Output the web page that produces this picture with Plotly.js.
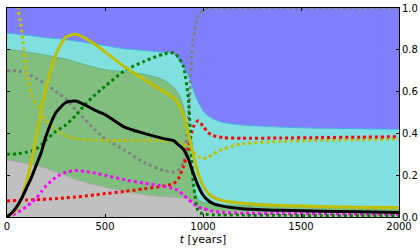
<!DOCTYPE html>
<html>
<head>
<meta charset="utf-8">
<script src="https://cdn.plot.ly/plotly-3.0.1.min.js"></script>
<style>html,body{margin:0;padding:0;background:#fff;}#chart{width:420px;height:249px;}</style>
</head>
<body>
<div id="chart"></div>
<script>
const years = [0,25,50,75,100,125,150,175,200,250,300,350,400,450,500,600,700,800,850,875,900,925,950,975,1000,1025,1050,1100,1200,1400,1600,1800,2000];

// stacked area boundaries (cumulative shares)
const grayTop  = [0.27,0.268,0.265,0.26,0.255,0.25,0.245,0.24,0.232,0.215,0.198,0.18,0.165,0.153,0.143,0.123,0.107,0.097,0.094,0.092,0.09,0.087,0.07,0.045,0.032,0.028,0.026,0.025,0.024,0.023,0.022,0.021,0.02];
const greenTop = [0.80,0.80,0.797,0.794,0.79,0.786,0.782,0.778,0.774,0.765,0.755,0.742,0.728,0.716,0.705,0.695,0.683,0.655,0.62,0.59,0.53,0.38,0.15,0.085,0.07,0.065,0.062,0.058,0.055,0.052,0.05,0.048,0.046];
const tealTop  = [0.88,0.878,0.875,0.872,0.87,0.867,0.864,0.861,0.858,0.854,0.849,0.842,0.835,0.828,0.82,0.805,0.797,0.788,0.782,0.755,0.72,0.675,0.61,0.55,0.51,0.485,0.47,0.453,0.44,0.43,0.425,0.422,0.42];

// dotted series
const grayDot   = [0.70,0.70,0.70,0.695,0.69,0.677,0.663,0.649,0.635,0.60,0.565,0.515,0.465,0.415,0.375,0.32,0.26,0.222,0.215,0.225,0.26,0.48,0.85,0.96,0.99,1.0,1.0,1.0,1.0,1.0,1.0,1.0,1.0];
const yellowDot = [1.35,1.18,1.03,0.89,0.68,0.59,0.535,0.495,0.46,0.415,0.39,0.375,0.37,0.368,0.366,0.366,0.366,0.365,0.362,0.358,0.345,0.33,0.31,0.29,0.28,0.285,0.30,0.325,0.35,0.362,0.367,0.37,0.373];
const greenDot  = [0.30,0.30,0.303,0.305,0.31,0.316,0.326,0.345,0.37,0.41,0.44,0.485,0.54,0.585,0.625,0.70,0.745,0.78,0.785,0.765,0.72,0.57,0.17,0.03,0.015,0.012,0.011,0.01,0.009,0.008,0.007,0.006,0.006];
const redDot    = [0.077,0.078,0.079,0.08,0.081,0.082,0.083,0.084,0.085,0.088,0.092,0.096,0.10,0.106,0.112,0.122,0.135,0.148,0.16,0.185,0.24,0.33,0.43,0.46,0.435,0.405,0.39,0.38,0.377,0.378,0.38,0.382,0.384];
const magentaDot= [0.005,0.01,0.02,0.035,0.05,0.07,0.09,0.12,0.15,0.19,0.215,0.222,0.218,0.21,0.2,0.178,0.162,0.147,0.135,0.127,0.105,0.085,0.065,0.048,0.04,0.034,0.028,0.022,0.018,0.016,0.015,0.014,0.013];

// solid series
const yellowSolid = [0.0,0.015,0.04,0.09,0.17,0.27,0.385,0.51,0.62,0.78,0.86,0.875,0.855,0.825,0.79,0.718,0.658,0.60,0.57,0.54,0.49,0.40,0.30,0.21,0.15,0.115,0.095,0.078,0.066,0.055,0.05,0.047,0.045];
const blackSolid  = [0.0,0.02,0.05,0.09,0.14,0.19,0.25,0.31,0.39,0.50,0.548,0.555,0.535,0.51,0.49,0.43,0.40,0.375,0.365,0.345,0.325,0.28,0.21,0.15,0.105,0.08,0.065,0.052,0.04,0.032,0.028,0.025,0.022];

const ones = years.map(() => 1);
const sm = {shape: 'spline', smoothing: 0.6};

const traces = [
  {x: years, y: grayTop, mode: 'lines', fill: 'tozeroy', fillcolor: '#c0c0c0',
   line: Object.assign({color: '#a8a8a8', width: 1}, sm), hoverinfo: 'skip'},
  {x: years, y: greenTop, mode: 'lines', fill: 'tonexty', fillcolor: '#80bf80',
   line: Object.assign({color: '#5faf7f', width: 1}, sm), hoverinfo: 'skip'},
  {x: years, y: tealTop, mode: 'lines', fill: 'tonexty', fillcolor: '#80dfdf',
   line: Object.assign({color: '#40b0e0', width: 1}, sm), hoverinfo: 'skip'},
  {x: years, y: ones, mode: 'lines', fill: 'tonexty', fillcolor: '#8080ff',
   line: {color: '#8080ff', width: 0}, hoverinfo: 'skip'},

  {x: years, y: grayDot, mode: 'lines', line: Object.assign({color: '#808080', width: 3, dash: '3px,3px'}, sm)},
  {x: years, y: yellowDot, mode: 'lines', line: Object.assign({color: '#bfbf00', width: 3, dash: '3px,3px'}, sm)},
  {x: years, y: redDot, mode: 'lines', line: Object.assign({color: '#ff0000', width: 3, dash: '3px,3px'}, sm)},
  {x: years, y: magentaDot, mode: 'lines', line: Object.assign({color: '#ff00ff', width: 3, dash: '3px,3px'}, sm)},
  {x: years, y: greenDot, mode: 'lines', line: Object.assign({color: '#008000', width: 3, dash: '3px,3px'}, sm)},
  {x: years, y: yellowSolid, mode: 'lines', line: Object.assign({color: '#bfbf00', width: 3}, sm)},
  {x: years, y: blackSolid, mode: 'lines', line: Object.assign({color: '#000000', width: 3}, sm)}
];

const layout = {
  width: 420, height: 249,
  margin: {l: 7, r: 21, t: 8, b: 32, pad: 0},
  paper_bgcolor: '#ffffff', plot_bgcolor: '#ffffff',
  showlegend: false,
  font: {family: 'DejaVu Sans', size: 10, color: '#000'},
  xaxis: {
    range: [0, 2000], tickvals: [0, 500, 1000, 1500, 2000],
    ticktext: ['0', '500', '1000', '1500', '2000'],
    ticks: 'inside', ticklen: 3, tickcolor: '#000', mirror: 'allticks',
    showline: true, linecolor: '#000', linewidth: 1,
    showgrid: false, zeroline: false,
    tickfont: {family: 'DejaVu Sans', size: 10},
    title: {text: '<i>t</i> [years]', font: {family: 'DejaVu Sans', size: 11}, standoff: 4}
  },
  yaxis: {
    range: [0, 1], side: 'right',
    tickvals: [0, 0.2, 0.4, 0.6, 0.8, 1.0],
    ticktext: ['0.0', '0.2', '0.4', '0.6', '0.8', '1.0'],
    ticks: 'inside', ticklen: 3, tickcolor: '#000', mirror: 'allticks',
    showline: true, linecolor: '#000', linewidth: 1,
    showgrid: false, zeroline: false,
    tickfont: {family: 'DejaVu Sans', size: 10}
  }
};

Plotly.newPlot('chart', traces, layout, {displayModeBar: false, staticPlot: true});
</script>
</body>
</html>
